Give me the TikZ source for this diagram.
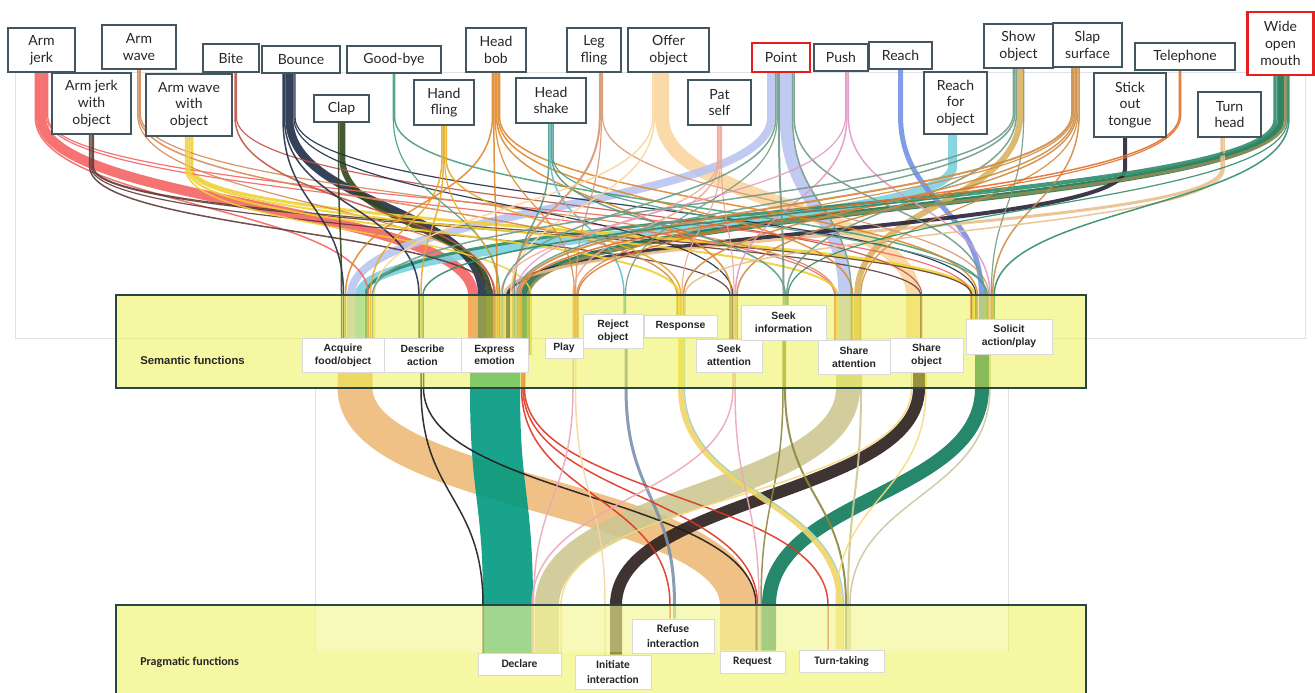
\documentclass[tikz,border=0pt]{standalone}
\usepackage{fontspec}
\setmainfont{Lato}
\newfontfamily\semf{Liberation Sans}
\newfontfamily\pragf{Carlito}
\usetikzlibrary{calc}
\pgfdeclarelayer{flows}
\pgfdeclarelayer{bands}
\pgfsetlayers{flows,bands,main}
% top colours
\definecolor{cAJ}{RGB}{244,100,100}
\definecolor{cAJO}{RGB}{95,60,55}
\definecolor{cAW}{RGB}{214,137,84}
\definecolor{cAWO}{RGB}{240,208,50}
\definecolor{cBite}{RGB}{192,84,70}
\definecolor{cBounce}{RGB}{32,44,72}
\definecolor{cGood}{RGB}{70,160,120}
\definecolor{cClap}{RGB}{48,72,28}
\definecolor{cHand}{RGB}{230,170,40}
\definecolor{cHbob}{RGB}{224,136,44}
\definecolor{cHshk}{RGB}{84,154,132}
\definecolor{cCyan}{RGB}{96,188,208}
\definecolor{cLeg}{RGB}{216,150,112}
\definecolor{cOffer}{RGB}{250,214,158}
\definecolor{cPat}{RGB}{240,168,152}
\definecolor{cLav}{RGB}{186,196,240}
\definecolor{cGG}{RGB}{112,156,136}
\definecolor{cPush}{RGB}{226,152,196}
\definecolor{cReach}{RGB}{114,146,226}
\definecolor{cReachO}{RGB}{124,208,222}
\definecolor{cShow}{RGB}{214,180,96}
\definecolor{cSlap}{RGB}{208,140,68}
\definecolor{cTongue}{RGB}{40,34,56}
\definecolor{cTel}{RGB}{226,112,42}
\definecolor{cTurn}{RGB}{232,192,142}
\definecolor{cWide}{RGB}{28,118,80}
\definecolor{cOlive}{RGB}{142,140,86}
\definecolor{cWideG}{RGB}{48,140,106}
% bottom colours
\definecolor{bOr}{RGB}{238,186,122}
\definecolor{bBlk}{RGB}{30,26,26}
\definecolor{bTeal}{RGB}{0,152,128}
\definecolor{bRed}{RGB}{222,52,32}
\definecolor{bPink}{RGB}{236,168,180}
\definecolor{bPeach}{RGB}{246,214,160}
\definecolor{bBlue}{RGB}{122,146,172}
\definecolor{bYel}{RGB}{242,212,104}
\definecolor{bLtTeal}{RGB}{150,212,204}
\definecolor{bOliv}{RGB}{140,136,62}
\definecolor{bKhaki}{RGB}{206,198,146}
\definecolor{bShBlk}{RGB}{42,30,28}
\definecolor{bLtYel}{RGB}{245,218,125}
\definecolor{bGreen}{RGB}{14,122,90}
\definecolor{bLtKh}{RGB}{200,200,160}
% frame colours
\definecolor{bandy}{RGB}{236,240,70}
\definecolor{bandb}{RGB}{40,70,70}
\definecolor{boxc}{RGB}{66,86,96}
\definecolor{redc}{RGB}{230,30,30}
\definecolor{faint}{RGB}{226,226,226}
\tikzset{
  gbox/.style={draw=boxc, line width=0.9pt, fill=white, inner sep=0pt, align=center,
    text=black!85, font=\fontsize{10.5}{12.5}\selectfont},
  redbox/.style={gbox, draw=redc, line width=1.6pt},
  sbox/.style={draw=gray!30, line width=0.4pt, fill=white, inner sep=0pt, align=center,
    text=black!85, font=\semf\bfseries\fontsize{7.8}{9.6}\selectfont},
  pbox/.style={draw=gray!30, line width=0.4pt, fill=white, inner sep=0pt, align=center,
    text=black!85, font=\pragf\bfseries\fontsize{8.6}{10.6}\selectfont},
  flow/.style={line cap=butt, opacity=0.9},
}
\newcommand\tfl[6]{%
  \draw[flow, line width=#5*0.75pt, draw=#6] let \p1=($(#1.south)+(#2,0)$), \p2=($(#3.center)+(#4,0)$), \p3=(semtop) in
  (\p1) -- (\x1,{0.8*(\y1)+0.2*(\y3)}) .. controls (\x1,{0.4*(\y1)+0.6*(\y3)}) and (\x2,{0.4*(\y1)+0.6*(\y3)}) .. (\x2,\y3) -- (\p2);}
\newcommand\bfl[6]{%
  \draw[flow, line width=#5*0.75pt, draw=#6] let \p1=($(#1.center)+(#2,0)$), \p2=($(#3.north)+(#4,0)$), \p3=(sembot), \p4=(pragtop) in
  (\p1) -- (\x1,\y3) .. controls (\x1,{0.5*(\y3)+0.5*(\y4)}) and (\x2,{0.5*(\y3)+0.5*(\y4)}) .. (\x2,\y4) -- (\p2);}
\begin{document}
\begin{tikzpicture}[x=0.75pt,y=-0.75pt]
\useasboundingbox (0,0) rectangle (1315,693);
\coordinate (semtop) at (0,295);
\coordinate (sembot) at (0,388);
\coordinate (pragtop) at (0,605);
% gesture labels
\node[gbox, minimum width=50.25pt, minimum height=33pt] (aj) at (41.5,50) {Arm\\jerk};
\node[gbox, minimum width=59.25pt, minimum height=45.75pt] (ajo) at (91.5,103.5) {Arm jerk\\with\\object};
\node[gbox, minimum width=55.5pt, minimum height=33pt] (aw) at (139,47) {Arm\\wave};
\node[gbox, minimum width=64.5pt, minimum height=46.5pt] (awo) at (189,105) {Arm wave\\with\\object};
\node[gbox, minimum width=42pt, minimum height=21pt] (bite) at (231,58) {Bite};
\node[gbox, minimum width=58.5pt, minimum height=20.25pt] (bounce) at (301,59.5) {Bounce};
\node[gbox, minimum width=70.5pt, minimum height=20.25pt] (good) at (394,59.5) {Good-bye};
\node[gbox, minimum width=41.25pt, minimum height=20.25pt] (clap) at (341.5,108.5) {Clap};
\node[gbox, minimum width=45pt, minimum height=33.75pt] (hand) at (444,102.5) {Hand\\fling};
\node[gbox, minimum width=45pt, minimum height=33pt] (hbob) at (496,50) {Head\\bob};
\node[gbox, minimum width=52.5pt, minimum height=33.75pt] (hshk) at (551,100.5) {Head\\shake};
\node[gbox, minimum width=40.5pt, minimum height=33pt] (leg) at (594,50) {Leg\\fling};
\node[gbox, minimum width=60.75pt, minimum height=33pt] (offer) at (668.5,50) {Offer\\object};
\node[gbox, minimum width=47.25pt, minimum height=33.75pt] (pat) at (719.5,102.5) {Pat\\self};
\node[redbox, minimum width=43.5pt, minimum height=21.75pt] (point) at (781,57.5) {Point};
\node[gbox, minimum width=40.5pt, minimum height=20.25pt] (push) at (841,57.5) {Push};
\node[gbox, minimum width=47.25pt, minimum height=20.25pt] (reach) at (900.5,55.5) {Reach};
\node[gbox, minimum width=47.25pt, minimum height=46.5pt] (reacho) at (955.5,103) {Reach\\for\\object};
\node[gbox, minimum width=51.75pt, minimum height=33pt] (show) at (1018.5,46) {Show\\object};
\node[gbox, minimum width=51.75pt, minimum height=33pt] (slap) at (1087.5,45) {Slap\\surface};
\node[gbox, minimum width=54pt, minimum height=48pt] (tongue) at (1130,105) {Stick\\out\\tongue};
\node[gbox, minimum width=75pt, minimum height=20.25pt] (tel) at (1185,56.5) {Telephone};
\node[gbox, minimum width=47.25pt, minimum height=33.75pt] (turn) at (1229.5,114.5) {Turn\\head};
\node[redbox, minimum width=49.5pt, minimum height=47.25pt] (wide) at (1280.5,43.5) {Wide\\open\\mouth};
% semantic labels
\node[anchor=west, inner sep=0pt, text=black!85, font=\semf\bfseries\fontsize{8.5}{10}\selectfont] (semlab) at (140,360) {Semantic functions};
\node[sbox, minimum width=61.5pt, minimum height=25.5pt] (acq) at (343,355) {Acquire\\food/object};
\node[sbox, minimum width=57.75pt, minimum height=25.5pt] (des) at (422.5,355) {Describe\\action};
\node[sbox, minimum width=50.25pt, minimum height=25.5pt] (exp) at (494.5,355) {Express\\emotion};
\node[sbox, minimum width=28.5pt, minimum height=15pt] (play) at (564,348) {Play};
\node[sbox, minimum width=45pt, minimum height=25.5pt] (rej) at (613,331) {Reject\\object};
\node[sbox, minimum width=54.75pt, minimum height=16.5pt] (resp) at (680.5,326) {Response};
\node[sbox, minimum width=49.5pt, minimum height=24.75pt] (satt) at (729,355.5) {Seek\\attention};
\node[sbox, minimum width=63.75pt, minimum height=26.25pt] (sinf) at (783.5,322.5) {Seek\\information};
\node[sbox, minimum width=54pt, minimum height=25.5pt] (shatt) at (854,357) {Share\\attention};
\node[sbox, minimum width=54.75pt, minimum height=25.5pt] (shobj) at (926.5,355) {Share\\object};
\node[sbox, minimum width=64.5pt, minimum height=26.25pt] (sol) at (1009,336.5) {Solicit\\action/play};
% pragmatic labels
\node[anchor=west, inner sep=0pt, text=black!85, font=\pragf\bfseries\fontsize{9}{10}\selectfont] (praglab) at (140,662) {Pragmatic functions};
\node[pbox, minimum width=62.25pt, minimum height=16.5pt] (dec) at (519.5,664) {Declare};
\node[pbox, minimum width=57pt, minimum height=25.5pt] (ini) at (613,672) {Initiate\\interaction};
\node[pbox, minimum width=61.5pt, minimum height=25.5pt] (ref) at (673,636) {Refuse\\interaction};
\node[pbox, minimum width=48.75pt, minimum height=16.5pt] (req) at (752.5,662) {Request};
\node[pbox, minimum width=63.75pt, minimum height=16.5pt] (turnt) at (841.5,661) {Turn-taking};

\begin{pgfonlayer}{flows}
\draw[faint, line width=0.6pt] (15,72) rectangle (1305,338);
\draw[faint, line width=0.6pt] (315,388) -- (315,652);
\draw[faint, line width=0.6pt] (1008,388) -- (1008,652);
% gesture -> semantic
\tfl{offer}{-6.5}{shobj}{-13.5}{14}{cOffer}
\tfl{point}{4.85}{shatt}{-9.6}{12}{cLav}
\tfl{aj}{-0.5}{exp}{-21.5}{10}{cAJ}
\tfl{point}{-9.85}{acq}{8}{8}{cLav}
\tfl{reacho}{-3}{acq}{16.5}{9}{cReachO}
\tfl{bounce}{-11.7}{exp}{-12.5}{8}{cBounce}
\tfl{clap}{0.75}{exp}{-5.5}{6}{cClap}
\tfl{wide}{0.4}{exp}{29.75}{6}{cWide}
\tfl{show}{1.65}{shatt}{3.2}{6}{cShow}
\tfl{reach}{0}{sol}{-27.65}{5}{cReach}
\tfl{tongue}{-5}{exp}{13.5}{4}{cTongue}
\tfl{wide}{4.9}{exp}{34.25}{3}{cOlive}
\tfl{turn}{-7.75}{exp}{10}{3}{cTurn}
\tfl{wide}{-5.6}{acq}{23}{3}{cWideG}
\tfl{awo}{2.75}{sol}{-35.1}{3}{cAWO}
\tfl{aj}{-6.25}{acq}{25.5}{1.5}{cAJ}
\tfl{aj}{5.1}{shatt}{-19.4}{1.2}{cAJ}
\tfl{aj}{6.3}{sol}{-38.4}{1.2}{cAJ}
\tfl{ajo}{-1.8}{exp}{-1.75}{1.5}{cAJO}
\tfl{ajo}{-0.45}{satt}{1}{1.2}{cAJO}
\tfl{ajo}{0.75}{shobj}{-5.9}{1.2}{cAJO}
\tfl{ajo}{1.95}{sol}{-37.2}{1.2}{cAJO}
\tfl{aw}{-1.35}{exp}{1.1}{1.2}{cAW}
\tfl{aw}{0}{resp}{-3.5}{1.5}{cAW}
\tfl{aw}{1.35}{shatt}{-18.2}{1.2}{cAW}
\tfl{awo}{-3.5}{exp}{36.5}{1.5}{cAWO}
\tfl{awo}{-1.75}{resp}{-1.5}{2}{cAWO}
\tfl{awo}{0.25}{shatt}{-16.6}{2}{cAWO}
\tfl{bite}{4}{exp}{-0.25}{1.5}{cBite}
\tfl{bite}{5.4}{shobj}{-4.7}{1.2}{cBite}
\tfl{bounce}{-18}{acq}{0.5}{1.5}{cBounce}
\tfl{bounce}{-16.5}{des}{-3.5}{1.5}{cBounce}
\tfl{bounce}{-7.1}{satt}{3.8}{1.2}{cBounce}
\tfl{bounce}{-5.9}{sol}{-33}{1.2}{cBounce}
\tfl{good}{-0.7}{exp}{5.1}{1.2}{cGood}
\tfl{good}{0.65}{sol}{-22.9}{1.5}{cGood}
\tfl{clap}{-3}{acq}{-1.5}{1.5}{cClap}
\tfl{hand}{-2.1}{acq}{27.5}{1.5}{cHand}
\tfl{hand}{-0.6}{des}{-1.5}{1.5}{cHand}
\tfl{hand}{0.75}{exp}{3.9}{1.2}{cHand}
\tfl{hand}{2.25}{resp}{0.25}{1.5}{cHand}
\tfl{hbob}{-3.6}{acq}{2.5}{1.5}{cHbob}
\tfl{hbob}{-2.1}{exp}{2.5}{1.5}{cHbob}
\tfl{hbob}{-0.75}{play}{10.5}{1.2}{cHbob}
\tfl{hbob}{0.6}{satt}{2.5}{1.5}{cHbob}
\tfl{hbob}{2.1}{shatt}{-1.3}{1.5}{cHbob}
\tfl{hbob}{3.6}{sol}{-31.65}{1.5}{cHbob}
\tfl{hshk}{-2.1}{exp}{19.75}{1.5}{cHshk}
\tfl{hshk}{-0.6}{rej}{11}{1.5}{cCyan}
\tfl{hshk}{0.9}{sinf}{1.75}{1.5}{cHshk}
\tfl{hshk}{2.25}{sol}{-21.55}{1.2}{cHshk}
\tfl{leg}{5.8}{exp}{18}{2}{cLeg}
\tfl{leg}{7.4}{play}{11.7}{1.2}{cLeg}
\tfl{leg}{8.6}{sol}{-20.35}{1.2}{cLeg}
\tfl{offer}{-15.75}{acq}{31.5}{1.5}{cOffer}
\tfl{offer}{-14.25}{exp}{16.25}{1.5}{cOffer}
\tfl{pat}{-1.95}{exp}{6.3}{1.2}{cPat}
\tfl{pat}{-0.6}{play}{9}{1.5}{cPat}
\tfl{pat}{0.75}{resp}{1.5}{1.2}{cPat}
\tfl{pat}{1.95}{satt}{5}{1.2}{cPat}
\tfl{point}{-5.1}{exp}{7.7}{1.5}{cGG}
\tfl{point}{-3.75}{rej}{12.5}{1.2}{cGG}
\tfl{point}{-2.15}{sinf}{0}{2}{cGG}
\tfl{point}{11.6}{shatt}{-2.8}{1.5}{cGG}
\tfl{point}{13.1}{sol}{-24.4}{1.5}{cGG}
\tfl{push}{4.5}{exp}{21.1}{1.2}{cPush}
\tfl{push}{5.85}{satt}{6.4}{1.5}{cPush}
\tfl{push}{7.35}{sol}{-19}{1.5}{cPush}
\tfl{show}{-5.1}{acq}{29.5}{1.5}{cGG}
\tfl{show}{-3.6}{exp}{22.5}{1.5}{cGG}
\tfl{show}{-2.1}{sinf}{3.25}{1.5}{cGG}
\tfl{show}{5.25}{sol}{-17.65}{1.2}{cGG}
\tfl{slap}{-15.45}{exp}{24.25}{2}{cSlap}
\tfl{slap}{-13.85}{play}{12.9}{1.2}{cSlap}
\tfl{slap}{-12.5}{resp}{3}{1.5}{cSlap}
\tfl{slap}{-11}{satt}{8}{1.5}{cSlap}
\tfl{slap}{-9.65}{shatt}{6.8}{1.2}{cSlap}
\tfl{slap}{-8.3}{sol}{-16.3}{1.5}{cSlap}
\tfl{tel}{-5.6}{exp}{26}{1.5}{cTel}
\tfl{tel}{-4.25}{play}{14}{1.2}{cTel}
\tfl{turn}{-5.5}{resp}{4.5}{1.5}{cTurn}
\tfl{wide}{-3.35}{des}{0.5}{1.5}{cWideG}
\tfl{wide}{7}{sinf}{4.5}{1.2}{cWideG}
\tfl{wide}{8.35}{sol}{-14.8}{1.5}{cWideG}
% semantic -> pragmatic
\bfl{acq}{12}{req}{-15}{35}{bOr}
\bfl{exp}{0.5}{dec}{-11.5}{50}{bTeal}
\bfl{shatt}{-6}{dec}{27.5}{24}{bKhaki}
\bfl{sol}{-27}{req}{16.5}{14}{bGreen}
\bfl{shobj}{-7.5}{ini}{3}{12}{bShBlk}
\bfl{resp}{0.5}{turnt}{-1.5}{6}{bYel}
\bfl{rej}{13}{ref}{1.5}{3}{bBlue}
\bfl{des}{-1.5}{dec}{-36.5}{1.5}{bBlk}
\bfl{des}{1}{req}{3.5}{1.5}{bBlk}
\bfl{exp}{27}{ref}{-3}{1.5}{bRed}
\bfl{exp}{28.5}{req}{5}{1.5}{bRed}
\bfl{exp}{30}{turnt}{-13.5}{1.5}{bRed}
\bfl{play}{9}{dec}{14}{1.5}{bPink}
\bfl{play}{11.5}{ini}{-8}{1.5}{bPeach}
\bfl{resp}{4.1}{turnt}{2.1}{1.2}{bLtTeal}
\bfl{satt}{4}{dec}{12.5}{1.5}{bPink}
\bfl{satt}{6}{req}{6.5}{1.5}{bPink}
\bfl{sinf}{-0.5}{req}{8.5}{1.5}{bOliv}
\bfl{sinf}{1.5}{turnt}{4.5}{2}{bOliv}
\bfl{shatt}{7}{turnt}{6.5}{2}{bKhaki}
\bfl{shobj}{-0.5}{turnt}{-5.5}{1.5}{bLtYel}
\bfl{shobj}{-15}{dec}{41.5}{1.5}{bLtYel}
\bfl{sol}{-19}{turnt}{8.5}{1.5}{bLtKh}
\end{pgfonlayer}

\begin{pgfonlayer}{bands}
\fill[bandy, opacity=0.5] (116,295) rectangle (1086,388);
\draw[bandb, line width=1.1pt] (116,295) rectangle (1086,388);
\fill[bandy, opacity=0.5] (116,605) rectangle (1086,700);
\fill[white, opacity=0.25] (315,605) rectangle (1008,652);
\draw[bandb, line width=1.1pt] (116,700) -- (116,605) -- (1086,605) -- (1086,700);
\end{pgfonlayer}
\end{tikzpicture}
\end{document}
